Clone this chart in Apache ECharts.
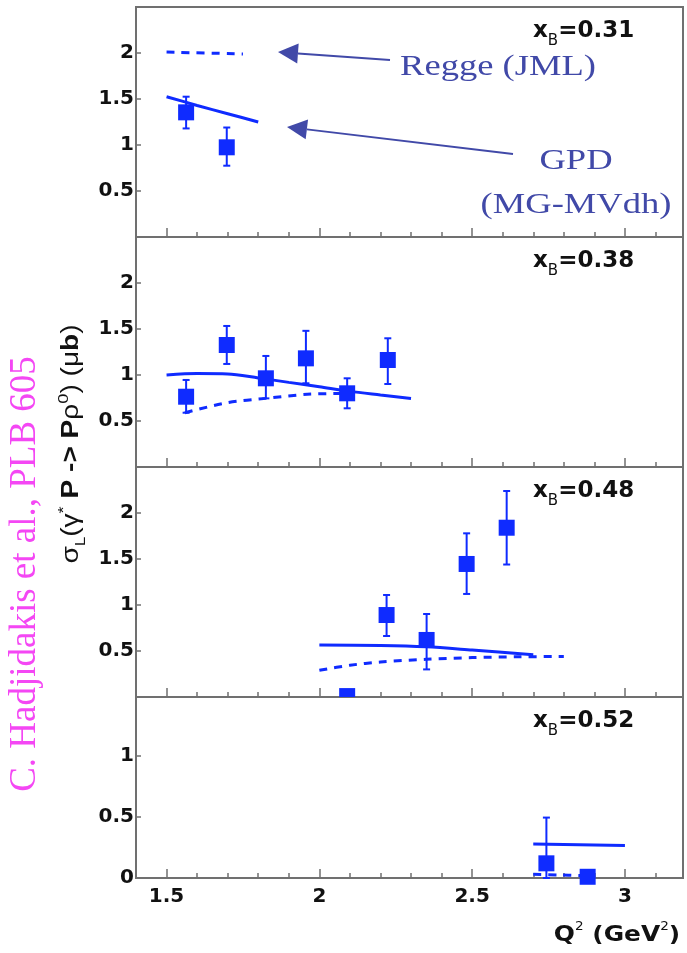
<!DOCTYPE html>
<html>
<head>
<meta charset="utf-8">
<script src="https://cdn.jsdelivr.net/npm/echarts@6/dist/echarts.min.js"></script>
<style>
  html, body { margin: 0; padding: 0; background: #ffffff; }
  #chart { width: 687px; height: 953px; }
</style>
</head>
<body>
<div id="chart"></div>
<script>
// ---- axis ticks -------------------------------------------------------
const xMajorTicks = [1.5, 2, 2.5, 3];
const xMinorTicks = [1.5, 1.6, 1.7, 1.8, 1.9, 2.0, 2.1, 2.2, 2.3, 2.4, 2.5, 2.6, 2.7, 2.8, 2.9, 3.0, 3.1];
const yTicksFull = [0.5, 1, 1.5, 2];
const yTicksLast = [0, 0.5, 1];

// x_B bin of each panel, top to bottom
const xbBins = ['0.31', '0.38', '0.48', '0.52'];

// ---- sigma_L data (ub): Q2 (GeV2), value, lower / upper end of error bar ----
const q2_031  = [1.564, 1.697];
const sig_031 = [1.355, 0.975];
const lo_031  = [1.18, 0.775];
const hi_031  = [1.525, 1.19];

const q2_038  = [1.564, 1.697, 1.825, 1.956, 2.091, 2.224];
const sig_038 = [0.764, 1.326, 0.964, 1.181, 0.801, 1.163];
const lo_038  = [0.59, 1.12, 0.746, 0.91, 0.638, 0.902];
const hi_038  = [0.946, 1.533, 1.207, 1.48, 0.964, 1.399];

const q2_048  = [2.091, 2.220, 2.351, 2.482, 2.613];
const sig_048 = [0.01, 0.891, 0.62, 1.446, 1.84];
const lo_048  = [0.01, 0.663, 0.30, 1.12, 1.44];
const hi_048  = [0.01, 1.109, 0.902, 1.779, 2.239];

const q2_052  = [2.743, 2.878];
const sig_052 = [0.12, 0.01];
const lo_052  = [0.0, 0.01];
const hi_052  = [0.494, 0.01];

// ---- GPD model (MG-MVdh), solid ------------------------------------------
const gpdQ2_031 = [1.5, 1.6, 1.7, 1.8];
const gpd_031   = [1.525, 1.43, 1.34, 1.25];
const gpdQ2_038 = [1.5, 1.6, 1.7, 1.8, 1.9, 2.0, 2.1, 2.2, 2.3];
const gpd_038   = [1.0, 1.015, 1.012, 0.968, 0.92, 0.872, 0.822, 0.783, 0.745];
const gpdQ2_048 = [2.0, 2.2, 2.35, 2.5, 2.7];
const gpd_048   = [0.565, 0.56, 0.545, 0.51, 0.46];
const gpdQ2_052 = [2.7, 3.0];
const gpd_052   = [0.279, 0.265];

// ---- Regge model (JML), dashed -------------------------------------------
const reggeQ2_031 = [1.5, 1.75];
const regge_031   = [2.01, 1.99];
const reggeQ2_038 = [1.56, 1.7, 1.825, 1.96, 2.09];
const regge_038   = [0.59, 0.70, 0.746, 0.79, 0.80];
const reggeQ2_048 = [2.0, 2.1, 2.2, 2.35, 2.5, 2.65, 2.8];
const regge_048   = [0.29, 0.345, 0.38, 0.41, 0.428, 0.437, 0.44];
const reggeQ2_052 = [2.70, 2.78, 2.86];
const regge_052   = [0.03, 0.025, 0.02];

// ---- styling -----------------------------------------------------------
const BLUE = '#0f2bff';
const NOTE = '#4149a8';
const FRAME = '#707070';
const TICK_FONT = '"DejaVu Sans", sans-serif';

const panels = [
  { top: 7,   height: 230, yMax: 2.5,  yTicks: yTicksFull, clip: true,
    pts: [q2_031, sig_031, lo_031, hi_031], gpd: [gpdQ2_031, gpd_031], regge: [reggeQ2_031, regge_031] },
  { top: 237, height: 230, yMax: 2.5,  yTicks: yTicksFull, clip: true,
    pts: [q2_038, sig_038, lo_038, hi_038], gpd: [gpdQ2_038, gpd_038], regge: [reggeQ2_038, regge_038] },
  { top: 467, height: 230, yMax: 2.5,  yTicks: yTicksFull, clip: true,
    pts: [q2_048, sig_048, lo_048, hi_048], gpd: [gpdQ2_048, gpd_048], regge: [reggeQ2_048, regge_048] },
  { top: 697, height: 181, yMax: 1.48, yTicks: yTicksLast, clip: false,
    pts: [q2_052, sig_052, lo_052, hi_052], gpd: [gpdQ2_052, gpd_052], regge: [reggeQ2_052, regge_052] }
];

const zip = (xs, ys) => xs.map((x, i) => [x, ys[i]]);

const grid = [], xAxis = [], yAxis = [], series = [], graphic = [];

panels.forEach((p, i) => {
  const last = i === panels.length - 1;
  grid.push({
    left: 136, top: p.top, width: 547, height: p.height,
    show: true, borderColor: FRAME, borderWidth: 2, backgroundColor: 'transparent'
  });
  // minor Q2 ticks
  xAxis.push({
    type: 'value', gridIndex: i, min: 1.4, max: 3.19, position: 'bottom',
    axisLine: { show: false }, splitLine: { show: false },
    axisTick: { show: true, inside: true, length: 5, customValues: xMinorTicks,
                lineStyle: { color: FRAME, width: 1.5 } },
    axisLabel: { show: false }
  });
  // major Q2 ticks and labels
  xAxis.push({
    type: 'value', gridIndex: i, min: 1.4, max: 3.19, position: 'bottom',
    axisLine: { show: false }, splitLine: { show: false },
    axisTick: { show: true, inside: true, length: 9, customValues: xMajorTicks,
                lineStyle: { color: FRAME, width: 1.5 } },
    axisLabel: { show: last, customValues: xMajorTicks, margin: 9,
                 fontFamily: TICK_FONT, fontWeight: 'bold', fontSize: 20, color: '#111' }
  });
  yAxis.push({
    type: 'value', gridIndex: i, min: 0, max: p.yMax,
    axisLine: { show: false }, splitLine: { show: false },
    axisTick: { show: true, inside: true, length: 5, customValues: p.yTicks,
                lineStyle: { color: FRAME, width: 1.5 } },
    axisLabel: { customValues: p.yTicks, margin: 2,
                 fontFamily: TICK_FONT, fontWeight: 'bold', fontSize: 20, color: '#111' }
  });

  const xi = i * 2 + 1;
  series.push({
    type: 'line', xAxisIndex: xi, yAxisIndex: i, data: zip(p.regge[0], p.regge[1]),
    showSymbol: false, smooth: 0.3, silent: true, z: 3,
    lineStyle: { color: BLUE, width: 3, type: [8, 7] }
  });
  series.push({
    type: 'line', xAxisIndex: xi, yAxisIndex: i, data: zip(p.gpd[0], p.gpd[1]),
    showSymbol: false, smooth: 0.3, silent: true, z: 3,
    lineStyle: { color: BLUE, width: 3 }
  });
  const [q, s, lo, hi] = p.pts;
  series.push({
    type: 'custom', xAxisIndex: xi, yAxisIndex: i, clip: p.clip, z: 5, silent: true,
    data: q.map((v, k) => [v, s[k], lo[k], hi[k]]),
    renderItem(params, api) {
      const c = api.coord([api.value(0), api.value(1)]);
      const t = api.coord([api.value(0), api.value(3)]);
      const b = api.coord([api.value(0), api.value(2)]);
      const half = 8, cap = 3.5;
      const ls = { stroke: BLUE, lineWidth: 2 };
      return {
        type: 'group',
        children: [
          { type: 'line', shape: { x1: c[0], y1: t[1], x2: c[0], y2: b[1] }, style: ls },
          { type: 'line', shape: { x1: c[0] - cap, y1: t[1], x2: c[0] + cap, y2: t[1] }, style: ls },
          { type: 'line', shape: { x1: c[0] - cap, y1: b[1], x2: c[0] + cap, y2: b[1] }, style: ls },
          { type: 'rect', shape: { x: c[0] - half, y: c[1] - half, width: 2 * half, height: 2 * half },
            style: { fill: BLUE } }
        ]
      };
    }
  });

  // x_B bin label
  graphic.push({
    type: 'text', left: 533, top: p.top + 13, z: 10,
    style: {
      text: '{v|x}{s|B}{v|=' + xbBins[i] + '}',
      rich: {
        v: { fontFamily: TICK_FONT, fontWeight: 'bold', fontSize: 23, fill: '#111', verticalAlign: 'bottom' },
        s: { fontFamily: TICK_FONT, fontSize: 15, fill: '#111', verticalAlign: 'bottom', padding: [0, 0, -6, 0] }
      }
    }
  });
});

// model annotations and arrows
function arrow(x1, y1, x2, y2) {
  const ang = Math.atan2(y2 - y1, x2 - x1);
  const L = 20, W = 10;
  const bx = x2 - L * Math.cos(ang), by = y2 - L * Math.sin(ang);
  const nx = -Math.sin(ang) * W, ny = Math.cos(ang) * W;
  graphic.push({ type: 'line', z: 10, shape: { x1, y1, x2: bx, y2: by },
                 style: { stroke: NOTE, lineWidth: 2 } });
  graphic.push({ type: 'polygon', z: 10,
                 shape: { points: [[x2, y2], [bx + nx, by + ny], [bx - nx, by - ny]] },
                 style: { fill: NOTE } });
}
arrow(390, 60, 278, 52);
arrow(513, 154, 287, 127);

const serif = '"Liberation Serif", "Times New Roman", serif';
[['Regge (JML)', 498, 67], ['GPD', 576, 161], ['(MG-MVdh)', 576, 205]].forEach(([t, x, y]) => {
  graphic.push({ type: 'text', x, y, scaleX: 1.26, z: 10,
    style: { text: t, font: '29px ' + serif, fill: NOTE, align: 'center', verticalAlign: 'middle' } });
});

// reference, vertical at the far left
graphic.push({
  type: 'text', x: 25, y: 574, rotation: Math.PI / 2, scaleY: 1.05, z: 10,
  style: { text: 'C. Hadjidakis et al., PLB 605', font: '37px ' + serif, fill: '#f447f4',
           align: 'center', verticalAlign: 'middle' }
});

// y-axis title
const sans = '"Liberation Sans", Arial, sans-serif';
graphic.push({
  type: 'text', x: 72, y: 444, rotation: Math.PI / 2, scaleX: 1.22, z: 10,
  style: {
    text: '{n|σ}{sub|L}{n|(γ}{sup|*}{b| P -> P}{n|ρ}{sup|0}{n|) (μ}{b|b}{n|)}',
    align: 'center', verticalAlign: 'middle',
    rich: {
      n:   { fontFamily: sans, fontSize: 23, fill: '#111', lineHeight: 32 },
      b:   { fontFamily: sans, fontSize: 23, fontWeight: 'bold', fill: '#111', lineHeight: 32 },
      sub: { fontFamily: sans, fontSize: 14, fill: '#111', verticalAlign: 'bottom', lineHeight: 32 },
      sup: { fontFamily: sans, fontSize: 15, fill: '#111', verticalAlign: 'top', lineHeight: 32 }
    }
  }
});

// x-axis title
graphic.push({
  type: 'text', x: 617, y: 935, scaleX: 1.13, z: 10,
  style: {
    text: '{b|Q}{sup|2}{b| (GeV}{sup|2}{b|)}',
    align: 'center', verticalAlign: 'middle',
    rich: {
      b:   { fontFamily: TICK_FONT, fontWeight: 'bold', fontSize: 22, fill: '#111', lineHeight: 28 },
      sup: { fontFamily: TICK_FONT, fontSize: 12, fill: '#111', verticalAlign: 'top', lineHeight: 28 }
    }
  }
});

const chart = echarts.init(document.getElementById('chart'), null, { renderer: 'canvas' });
chart.setOption({
  backgroundColor: '#ffffff',
  animation: false,
  grid, xAxis, yAxis, series, graphic
});
</script>
</body>
</html>
